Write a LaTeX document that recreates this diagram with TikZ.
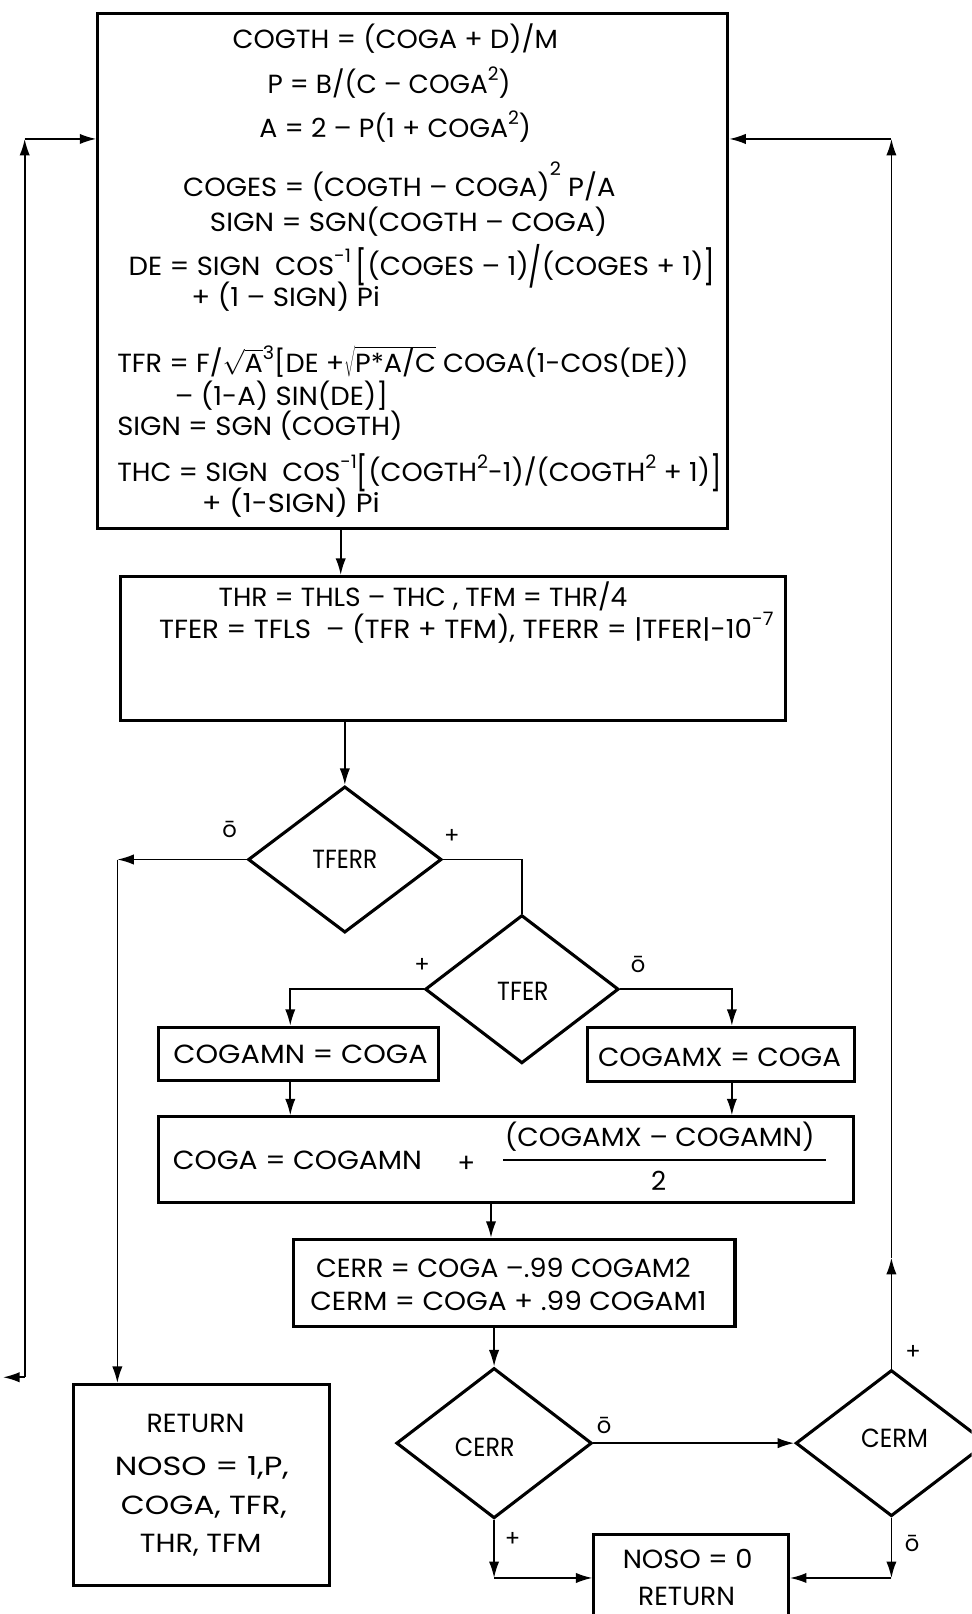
\documentclass[tikz,border=0pt]{standalone}
\usepackage{fontspec}
\setmainfont{Poppins}
\usepackage{graphicx}
\usetikzlibrary{shapes.geometric,arrows.meta}
\makeatletter
\newcommand{\fitto}[2]{\sbox\z@{#2}\dimen@=\wd\z@\edef\fitsc{\fpeval{(#1)/\strip@pt\dimen@}}\scalebox{\fitsc}[1]{\usebox\z@}}
\makeatother
\newcommand{\spr}[1]{\raisebox{0.5em}{\fontsize{18}{18}\selectfont #1}}
\newcommand{\sprhi}[1]{\raisebox{0.8em}{\fontsize{18}{18}\selectfont #1}}
\newcommand{\bigbr}[1]{\raisebox{-0.15em}{\scalebox{1}[1.3]{#1}}}
\newcommand{\bigsl}{\raisebox{-0.2em}{\scalebox{1}[1.5]{/}}}
\tikzset{
  x=1pt, y=-1pt,
  box/.style={draw, line width=3pt, inner sep=0pt},
  dia/.style={draw, diamond, line width=3pt, inner sep=0pt},
  txt/.style={inner sep=0pt, anchor=base, font=\fontsize{25.5}{28}\selectfont},
  lbl/.style={inner sep=0pt, font=\fontsize{22}{24}\selectfont},
  conn/.style={line width=1.6pt},
  arr/.style={line width=1.6pt, -{Latex[length=16pt,width=10pt]}},
}
\begin{document}
\begin{tikzpicture}
\useasboundingbox (0,0) rectangle (944,1568);
\clip (0,0) rectangle (944,1568);
% boxes
\node[box, minimum width=612pt, minimum height=500pt] (b1) at (401,263) {};
\node[box, minimum width=646pt, minimum height=140pt] (b2) at (440,630) {};
\node[box, minimum width=272pt, minimum height=52pt] (b3) at (290,1024) {};
\node[box, minimum width=259pt, minimum height=53pt] (b4) at (700.5,1024.5) {};
\node[box, minimum width=675pt, minimum height=83pt] (b5) at (491.5,1126.5) {};
\node[box, minimum width=429pt, minimum height=85pt] (b6) at (499.5,1246.5) {};
\node[box, minimum width=249pt, minimum height=195pt] (b7) at (195.5,1442.5) {};
\node[box, minimum width=189pt, minimum height=84pt] (b8) at (671.5,1533) {};
% diamonds
\node[dia, minimum width=188pt, minimum height=142pt] (d1) at (335,835) {};
\node[dia, minimum width=188pt, minimum height=144pt] (d2) at (507,961) {};
\node[dia, minimum width=190pt, minimum height=146pt] (d3) at (480,1402) {};
\node[dia, minimum width=186pt, minimum height=142pt] (d4) at (866,1402) {};
% top box text
\node[txt] (t1) at (384,47) {\fitto{316}{COGTH = (COGA + D)/M}};
\node[txt] (t2) at (378,91) {\fitto{236}{P = B/(C – COGA\spr{2})}};
\node[txt] (t3) at (384,134) {\fitto{264}{A = 2 – P(1 + COGA\spr{2})}};
\node[txt] (t4) at (388,191) {\fitto{420}{COGES = (COGTH – COGA)\sprhi{2}\ P/A}};
\node[txt] (t5) at (397,225) {\fitto{386}{SIGN = SGN(COGTH – COGA)}};
\node[txt] (t6) at (410,268) {\fitto{570}{DE = SIGN\ \ COS\spr{-1}\,\bigbr{[}(COGES – 1)\bigsl(COGES + 1)\bigbr{]}}};
\node[txt] (t7) at (277.5,298) {\fitto{183}{+ (1 – SIGN) Pi}};
\node[txt] (t8) at (391.5,362) {\fitto{555}{TFR = F/$\sqrt{\mbox{A}}$\spr{3}[DE +$\sqrt{\mbox{P*A/C}}$ COGA(1-COS(DE))}};
\node[txt] (t9) at (273.5,394) {\fitto{207}{– (1-A) SIN(DE)]}};
\node[txt] (t10) at (252.5,423) {\fitto{277}{SIGN = SGN (COGTH)}};
\node[txt] (t11) at (407.5,468) {\fitto{587}{THC = SIGN\ \ COS\spr{-1}\bigbr{[}(COGTH\spr{2}-1)/(COGTH\spr{2} + 1)\bigbr{]}}};
\node[txt] (t12) at (282.5,498) {\fitto{173}{+ (1-SIGN) Pi}};
% box 2
\node[txt] (u1) at (411,589) {\fitto{397}{THR = THLS – THC , TFM = THR/4}};
\node[txt] (u2) at (453,620) {\fitto{597}{TFER = TFLS\ \ – (TFR + TFM), TFERR = |TFER|-10\spr{-7}}};
% small boxes
\node[txt] (v3) at (292,1033) {\fitto{247}{COGAMN = COGA}};
\node[txt] (v4) at (699,1036) {\fitto{236}{COGAMX = COGA}};
\node[txt] (v5a) at (289,1136) {\fitto{242}{COGA = COGAMN}};
\node[txt] (v5b) at (453,1139) {+};
\node[txt] (v5c) at (641,1114) {\fitto{301}{(COGAMX – COGAMN)}};
\node[txt] (v5d) at (640,1157) {2};
\draw[line width=2pt] (489,1127) -- (802,1127);
\node[txt] (v6a) at (489,1241) {\fitto{364}{CERR = COGA –.99 COGAM2}};
\node[txt] (v6b) at (494,1273) {\fitto{385}{CERM = COGA + .99 COGAM1}};
\node[txt] (v7a) at (190,1392) {\fitto{95}{RETURN}};
\node[txt] (v7b) at (196,1433) {\fitto{169}{NOSO = 1,P,}};
\node[txt] (v7c) at (198,1471) {\fitto{161}{COGA, TFR,}};
\node[txt] (v7d) at (195,1508) {\fitto{118}{THR, TFM}};
\node[txt] (v8a) at (668,1524) {\fitto{126}{NOSO = 0}};
\node[txt] (v8b) at (667,1560) {\fitto{94}{RETURN}};
% diamond labels
\node[txt] (w1) at (335,844) {\fitto{63}{TFERR}};
\node[txt] (w2) at (508,972) {\fitto{50}{TFER}};
\node[txt] (w3) at (471,1415) {\fitto{58}{CERR}};
\node[txt] (w4) at (869,1406) {\fitto{65}{CERM}};
% branch labels
\node[lbl] (l1) at (223,806) {ō};
\node[lbl] (l2) at (439,813) {+};
\node[lbl] (l3) at (410,938) {+};
\node[lbl] (l4) at (620,937) {ō};
\node[lbl] (l5) at (587,1385) {ō};
\node[lbl] (l6) at (498,1496) {+};
\node[lbl] (l7) at (887,1314) {+};
\node[lbl] (l8) at (886,1499) {ō};
% coordinates
\coordinate (a1) at (331,0);
\coordinate (a3) at (282,0);
\coordinate (a4) at (711,0);
\coordinate (a5) at (477,0);
\coordinate (T1) at (114,835);
\coordinate (C1) at (480,1533);
\coordinate (C2) at (866,1533);
\coordinate (Rtop) at (866,135);
\coordinate (Rmid) at (866,1222);
\coordinate (Ltop) at (24,135);
\coordinate (Lbot) at (24,1338);
\coordinate (Lend) at (3,1338);
% connectors
\draw[arr] (a1 |- b1.south) -- (a1 |- b2.north);
\draw[arr] (d1.north |- b2.south) -- (d1.north);
\draw[arr] (d1.west) -- (T1);
\draw[arr] (T1) -- (T1 |- b7.north);
\draw[conn] (d1.east) -| (d2.north);
\draw[arr] (d2.west) -| (a3 |- b3.north);
\draw[arr] (d2.east) -| (a4 |- b4.north);
\draw[arr] (a3 |- b3.south) -- (a3 |- b5.north);
\draw[arr] (a4 |- b4.south) -- (a4 |- b5.north);
\draw[arr] (a5 |- b5.south) -- (a5 |- b6.north);
\draw[arr] (d3.north |- b6.south) -- (d3.north);
\draw[arr] (d3.south) -- (C1);
\draw[arr] (C1) -- (C1 -| b8.west);
\draw[arr] (d3.east) -- (d4.west);
\draw[arr] (d4.south) -- (C2);
\draw[arr] (C2) -- (C2 -| b8.east);
\draw[arr] (d4.north) -- (Rmid);
\draw[arr] (Rmid) -- (Rtop);
\draw[arr] (Rtop) -- (Rtop -| b1.east);
\draw[arr] (Lbot) -- (Lend);
\draw[arr] (Lbot) -- (Ltop);
\draw[arr] (Ltop) -- (Ltop -| b1.west);
\end{tikzpicture}
\end{document}
